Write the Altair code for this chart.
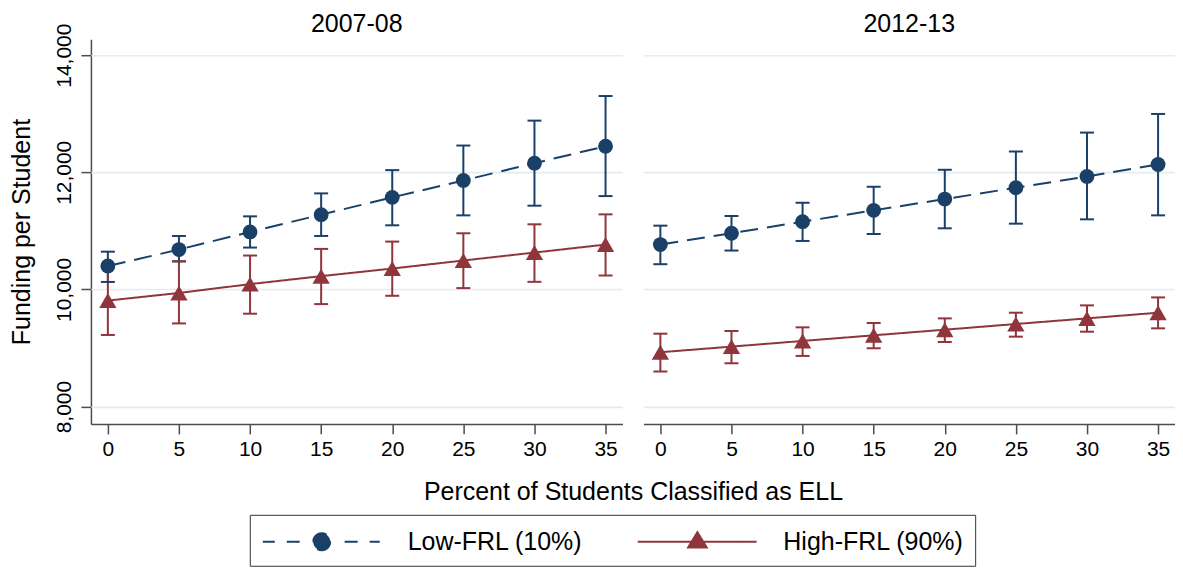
import math
import altair as alt
import pandas as pd

# ---------------- data ----------------
YEARS = ["2007-08", "2012-13"]
SERIES = ["Low-FRL (10%)", "High-FRL (90%)"]
PCT = [0, 5, 10, 15, 20, 25, 30, 35]
Y_TICKS = [8000, 10000, 12000, 14000]

LOW_0708 = [10400, 10681, 10982, 11277, 11572, 11861, 12156, 12445]
LOW_0708_LO = [10128, 10478, 10715, 10913, 11095, 11265, 11430, 11594]
LOW_0708_HI = [10645, 10913, 11248, 11640, 12037, 12457, 12882, 13302]
HIGH_0708 = [9810, 9940, 10091, 10227, 10357, 10494, 10630, 10766]
HIGH_0708_LO = [9223, 9420, 9586, 9750, 9892, 10023, 10130, 10238]
HIGH_0708_HI = [10400, 10482, 10579, 10692, 10817, 10959, 11112, 11282]

LOW_1213 = [10766, 10959, 11157, 11350, 11543, 11736, 11929, 12133]
LOW_1213_LO = [10431, 10664, 10828, 10947, 11044, 11123, 11197, 11265]
LOW_1213_HI = [11089, 11254, 11480, 11753, 12043, 12355, 12678, 12996]
HIGH_1213 = [8928, 9024, 9121, 9217, 9313, 9410, 9506, 9603]
HIGH_1213_LO = [8599, 8740, 8865, 8996, 9103, 9194, 9279, 9336]
HIGH_1213_HI = [9245, 9291, 9353, 9427, 9506, 9603, 9728, 9864]

rows = []
for year, series, est, lo, hi in [
    (YEARS[0], SERIES[0], LOW_0708, LOW_0708_LO, LOW_0708_HI),
    (YEARS[0], SERIES[1], HIGH_0708, HIGH_0708_LO, HIGH_0708_HI),
    (YEARS[1], SERIES[0], LOW_1213, LOW_1213_LO, LOW_1213_HI),
    (YEARS[1], SERIES[1], HIGH_1213, HIGH_1213_LO, HIGH_1213_HI),
]:
    for p, e, l, h in zip(PCT, est, lo, hi):
        rows.append({"year": year, "series": series, "pct": p, "est": e, "lo": l, "hi": h})
df = pd.DataFrame(rows)

# ---------------- style ----------------
FONT = "Liberation Sans"
NAVY = "#1b4068"
MAROON = "#90353b"
COLORS = [NAVY, MAROON]
GRID = "#e3ecf0"
AXIS_COL = "#4d4d4d"

# legend symbol paths (unit = sqrt(symbolSize)/2 px)
def poly(points):
    return "M" + "L".join(f"{x:.3f},{y:.3f}" for x, y in points) + "Z"

circle_pts = [(0.567 * math.cos(2 * math.pi * k / 24), 0.567 * math.sin(2 * math.pi * k / 24)) for k in range(24)]
dash_segs = [(-3.93, -3.13), (-2.33, -1.47), (-0.6, 0.87), (1.53, 2.4), (3.2, 3.87)]
LOW_PATH = "".join(f"M{a},0L{b},0" for a, b in dash_segs) + poly(circle_pts)
HIGH_PATH = "M-3.98,0L3.95,0" + poly([(0, -0.64), (-0.62, 0.38), (0.62, 0.38)])


def pick(a, b):
    return alt.ExprRef(expr=f"datum.value === '{SERIES[0]}' ? '{a}' : '{b}'")


legend = alt.Legend(
    title=None,
    orient="none",
    legendX=159,
    legendY=476,
    direction="horizontal",
    columns=2,
    symbolSize=900,
    symbolOffset=45,
    symbolStrokeWidth=2,
    symbolType=pick(LOW_PATH, HIGH_PATH),
    symbolFillColor=pick(NAVY, MAROON),
    symbolStrokeColor=pick(NAVY, MAROON),
    symbolOpacity=1,
    labelOffset=70,
    labelFontSize=25,
    labelFont=FONT,
    labelColor="black",
    labelLimit=400,
    columnPadding=50,
    padding=11,
    strokeColor="#333333",
    fillColor="white",
)

x_enc = alt.X(
    "pct:Q",
    scale=alt.Scale(domain=[-1.19, 36.19], nice=False, zero=False),
    axis=alt.Axis(values=PCT, title=None, grid=False, labelPadding=5, labelAngle=0),
)
y_scale = alt.Scale(domain=[7705, 14272], nice=False, zero=False)
y_axis = alt.Axis(
    values=Y_TICKS,
    format=",d",
    title="Funding per Student",
    grid=True,
    gridColor=GRID,
    gridWidth=1.6,
    labelAngle=270,
    labelAlign="center",
    labelBaseline="alphabetic",
    labelPadding=10,
    titlePadding=19,
)


def y_enc(field):
    return alt.Y(f"{field}:Q", scale=y_scale, axis=y_axis)


color_scale = alt.Scale(domain=SERIES, range=COLORS)
color_main = alt.Color("series:N", scale=color_scale, legend=legend)
color_plain = alt.Color("series:N", scale=color_scale, legend=None)

base = alt.Chart()

lines = base.mark_line(strokeWidth=2).encode(
    x=x_enc,
    y=y_enc("est"),
    color=color_main,
    strokeDash=alt.StrokeDash(
        "series:N", scale=alt.Scale(domain=SERIES, range=[[18, 9], [1, 0]]), legend=None
    ),
)
bars = base.mark_rule(strokeWidth=2).encode(
    x=x_enc, y=y_enc("lo"), y2="hi:Q", color=color_plain
)
caps_lo = base.mark_tick(orient="horizontal", size=14, thickness=2, opacity=1).encode(
    x=x_enc, y=y_enc("lo"), color=color_plain
)
caps_hi = base.mark_tick(orient="horizontal", size=14, thickness=2, opacity=1).encode(
    x=x_enc, y=y_enc("hi"), color=color_plain
)
pts_low = (
    base.transform_filter(alt.datum.series == SERIES[0])
    .mark_point(shape="circle", filled=True, size=220, opacity=1)
    .encode(x=x_enc, y=y_enc("est"), color=color_plain)
)
pts_high = (
    base.transform_filter(alt.datum.series == SERIES[1])
    .mark_point(shape="triangle-up", filled=True, size=300, opacity=1)
    .encode(x=x_enc, y=y_enc("est"), color=color_plain)
)

layered = alt.layer(lines, bars, caps_lo, caps_hi, pts_low, pts_high, data=df).properties(
    width=532, height=385
)

chart = (
    layered.facet(
        column=alt.Column(
            "year:N",
            sort=YEARS,
            title="Percent of Students Classified as ELL",
            header=alt.Header(
                labelOrient="top",
                titleOrient="bottom",
                labelFontSize=25,
                labelFont=FONT,
                labelColor="black",
                labelPadding=2,
                titleFontSize=25,
                titleFont=FONT,
                titleColor="black",
                titleFontWeight="normal",
                titlePadding=10,
            ),
        ),
        spacing=21,
    )
    .properties(padding={"left": 1, "top": 4, "right": 0, "bottom": 0})
    .configure(font=FONT)
    .configure_view(stroke=None)
    .configure_axis(
        domainColor=AXIS_COL,
        domainWidth=1.5,
        tickColor=AXIS_COL,
        tickWidth=1.5,
        tickSize=10,
        labelFont=FONT,
        labelFontSize=21,
        labelColor="black",
        titleFont=FONT,
        titleFontSize=25,
        titleFontWeight="normal",
        titleColor="black",
    )
)

chart.save("out.html", embed_options={"renderer": "svg", "actions": False})
